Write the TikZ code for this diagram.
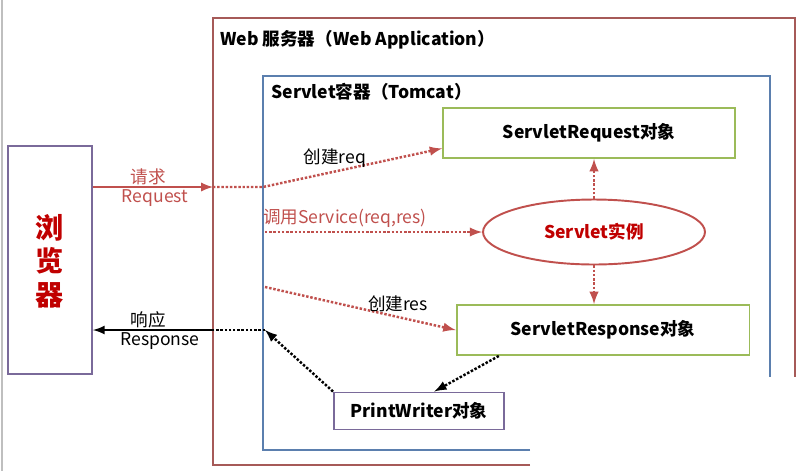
\documentclass[tikz,border=0pt]{standalone}
\usepackage{fontspec}
\setmainfont{Noto Sans CJK SC}
\usetikzlibrary{shapes.geometric}
\definecolor{webred}{HTML}{A65A58}
\definecolor{tomblue}{HTML}{5B7FAE}
\definecolor{boxgreen}{HTML}{9BBB59}
\definecolor{navpurple}{HTML}{7A6A9A}
\definecolor{linered}{HTML}{C0504D}
\definecolor{textred}{HTML}{C00000}
\tikzset{
  marco/.style={line width=0.9pt},
  caja/.style={draw, line width=1.1pt, inner sep=0pt, font=\bfseries\fontsize{10}{12}\selectfont},
  etiq/.style={inner sep=1pt, font=\fontsize{10}{12}\selectfont},
  punteado/.style={densely dotted, line width=1.4pt, -latex},
}
\begin{document}
\begin{tikzpicture}[x=0.02cm,y=-0.02cm]
    \useasboundingbox (0,0) rectangle (801,471);
    \draw[gray!50, line width=0.8pt] (2,0) -- (2,471);
    % Marcos del servidor y del contenedor
    \draw[marco, webred] (530,465) -- (213,465) -- (213,18) -- (795,18) -- (795,377);
    \draw[marco, tomblue] (530,450) -- (263,450) -- (263,76) -- (770,76) -- (770,377);
    \node[anchor=west, inner sep=0pt, font=\bfseries\fontsize{10}{12}\selectfont] (web) at (220,40) {Web 服务器（Web Application）};
    \node[anchor=west, inner sep=0pt, font=\bfseries\fontsize{10}{12}\selectfont] (tomcat) at (271,92) {Servlet容器（Tomcat）};
    % Nodos
    \node[caja, draw=navpurple, minimum width=1.68cm, minimum height=4.56cm] (nav) at (50,260) {};
    \node[text=textred, align=center, font=\bfseries\fontsize{16}{19}\selectfont] (navtxt) at (50,261) {浏\\览\\器};
    \node[caja, draw=boxgreen, minimum width=5.84cm, minimum height=1cm] (req) at (589,133) {ServletRequest对象};
    \node[ellipse, draw=linered, line width=1.1pt, text=textred, minimum width=4.44cm, minimum height=1.3cm, inner sep=0pt, font=\bfseries\fontsize{10}{12}\selectfont] (srv) at (594,232) {Servlet实例};
    \node[caja, draw=boxgreen, minimum width=5.86cm, minimum height=1cm] (resp) at (603,330) {ServletResponse对象};
    \node[caja, draw=navpurple, minimum width=3.4cm, minimum height=0.74cm] (pw) at (419,411) {PrintWriter对象};
    % Puntos sobre los marcos
    \coordinate (rq1) at (213,187);
    \coordinate (rq2) at (263,187);
    \coordinate (sv1) at (265,232);
    \coordinate (cr1) at (265,287);
    \coordinate (rs2) at (265,330);
    \coordinate (rs1) at (213,330);
    % Peticion
    \draw[linered, line width=1.3pt, -latex] (nav.east |- rq1) -- (rq1);
    \draw[punteado, linered] (rq1) -- (rq2) -- (req.186);
    \draw[punteado, linered] (sv1) -- (srv.west);
    \draw[punteado, linered] (cr1) -- (resp.west);
    \draw[punteado, linered] (srv.north) -- (srv.north |- req.south);
    \draw[punteado, linered] (srv.south) -- (srv.south |- resp.north);
    % Respuesta
    \draw[punteado, black] (resp.194) -- (pw.52);
    \draw[punteado, black] (pw.north west) -- (rs2);
    \draw[densely dotted, line width=1.4pt] (rs2) -- (rs1);
    \draw[line width=1.3pt, -latex] (rs1) -- (nav.east |- rs1);
    % Etiquetas
    \node[etiq, text=linered] (l1) at (148,177) {请求};
    \node[etiq, text=linered] (l2) at (155,198) {Request};
    \node[etiq] (l3) at (148,320) {响应};
    \node[etiq] (l4) at (160,341) {Response};
    \node[etiq] (l5) at (335,158) {创建req};
    \node[etiq, text=linered] (l6) at (345,218) {调用Service(req,res)};
    \node[etiq] (l7) at (398,304) {创建res};
\end{tikzpicture}
\end{document}
